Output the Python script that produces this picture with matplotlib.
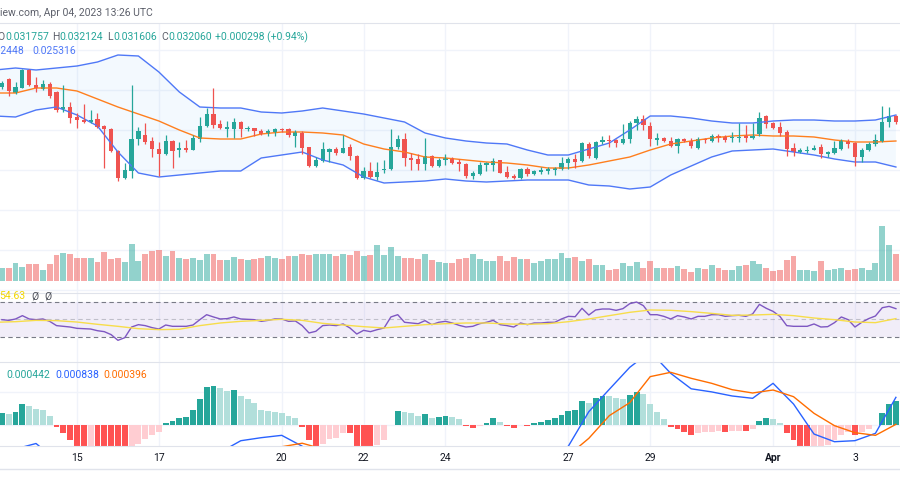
import numpy as np
import pandas as pd
import matplotlib
matplotlib.use("Agg")
import matplotlib.pyplot as plt
from matplotlib.ticker import MultipleLocator
from matplotlib.lines import Line2D

# 4h candles, Mar 13 04:00 -> Apr 04 00:00
times = pd.date_range("2023-03-13 04:00", periods=132, freq="4h")

opens = [
    0.03243, 0.03251, 0.03237, 0.03242, 0.03260, 0.03245, 0.03241, 0.03246, 0.03238, 0.03221, 0.03223, 0.03213,
    0.03210, 0.03208, 0.03211, 0.03204, 0.03201, 0.03179, 0.03152, 0.03159, 0.03191, 0.03195, 0.03189, 0.03181,
    0.03176, 0.03189, 0.03180, 0.03182, 0.03180, 0.03191, 0.03204, 0.03216, 0.03206, 0.03201, 0.03201, 0.03208,
    0.03201, 0.03202, 0.03199, 0.03196, 0.03198, 0.03201, 0.03201, 0.03194, 0.03197, 0.03183, 0.03164, 0.03169,
    0.03178, 0.03181, 0.03177, 0.03183, 0.03174, 0.03152, 0.03159, 0.03153, 0.03160, 0.03161, 0.03183, 0.03191,
    0.03172, 0.03171, 0.03166, 0.03174, 0.03164, 0.03170, 0.03172, 0.03168, 0.03166, 0.03154, 0.03156, 0.03165,
    0.03165, 0.03170, 0.03158, 0.03154, 0.03152, 0.03161, 0.03156, 0.03158, 0.03159, 0.03160, 0.03161, 0.03167,
    0.03171, 0.03169, 0.03186, 0.03172, 0.03188, 0.03190, 0.03190, 0.03187, 0.03191, 0.03207, 0.03211, 0.03204,
    0.03190, 0.03192, 0.03189, 0.03184, 0.03191, 0.03189, 0.03182, 0.03191, 0.03189, 0.03194, 0.03193, 0.03192,
    0.03192, 0.03194, 0.03192, 0.03196, 0.03214, 0.03207, 0.03203, 0.03198, 0.03182, 0.03178, 0.03179, 0.03180,
    0.03183, 0.03176, 0.03177, 0.03181, 0.03189, 0.03187, 0.03173, 0.03180, 0.03186, 0.03189, 0.03208, 0.03214,
]
highs = [
    0.03249, 0.03252, 0.03248, 0.03261, 0.03261, 0.03253, 0.03250, 0.03248, 0.03239, 0.03245, 0.03228, 0.03217,
    0.03226, 0.03220, 0.03217, 0.03205, 0.03202, 0.03180, 0.03167, 0.03245, 0.03203, 0.03207, 0.03193, 0.03188,
    0.03195, 0.03190, 0.03188, 0.03190, 0.03195, 0.03213, 0.03222, 0.03242, 0.03210, 0.03209, 0.03212, 0.03209,
    0.03204, 0.03202, 0.03201, 0.03201, 0.03202, 0.03202, 0.03202, 0.03200, 0.03199, 0.03183, 0.03173, 0.03188,
    0.03182, 0.03183, 0.03195, 0.03186, 0.03175, 0.03163, 0.03168, 0.03168, 0.03170, 0.03201, 0.03195, 0.03197,
    0.03177, 0.03176, 0.03192, 0.03175, 0.03172, 0.03176, 0.03173, 0.03171, 0.03167, 0.03159, 0.03168, 0.03168,
    0.03172, 0.03170, 0.03164, 0.03156, 0.03162, 0.03163, 0.03160, 0.03163, 0.03163, 0.03163, 0.03173, 0.03173,
    0.03176, 0.03188, 0.03188, 0.03189, 0.03194, 0.03195, 0.03191, 0.03206, 0.03209, 0.03214, 0.03215, 0.03208,
    0.03197, 0.03193, 0.03193, 0.03192, 0.03192, 0.03192, 0.03193, 0.03192, 0.03196, 0.03196, 0.03195, 0.03198,
    0.03207, 0.03205, 0.03207, 0.03218, 0.03215, 0.03208, 0.03208, 0.03200, 0.03187, 0.03182, 0.03184, 0.03185,
    0.03186, 0.03179, 0.03189, 0.03191, 0.03191, 0.03188, 0.03182, 0.03188, 0.03196, 0.03224, 0.03223, 0.03215,
]
lows = [
    0.03241, 0.03234, 0.03236, 0.03242, 0.03244, 0.03238, 0.03240, 0.03232, 0.03218, 0.03218, 0.03207, 0.03202,
    0.03207, 0.03207, 0.03202, 0.03162, 0.03178, 0.03149, 0.03151, 0.03152, 0.03185, 0.03186, 0.03173, 0.03154,
    0.03175, 0.03162, 0.03173, 0.03178, 0.03180, 0.03188, 0.03203, 0.03202, 0.03201, 0.03193, 0.03192, 0.03193,
    0.03199, 0.03194, 0.03195, 0.03194, 0.03194, 0.03198, 0.03193, 0.03183, 0.03176, 0.03163, 0.03163, 0.03168,
    0.03168, 0.03175, 0.03177, 0.03170, 0.03151, 0.03151, 0.03152, 0.03150, 0.03157, 0.03160, 0.03181, 0.03164,
    0.03160, 0.03160, 0.03160, 0.03163, 0.03163, 0.03165, 0.03166, 0.03159, 0.03152, 0.03151, 0.03155, 0.03159,
    0.03159, 0.03157, 0.03152, 0.03151, 0.03151, 0.03154, 0.03155, 0.03156, 0.03156, 0.03155, 0.03160, 0.03161,
    0.03162, 0.03168, 0.03172, 0.03171, 0.03186, 0.03183, 0.03183, 0.03186, 0.03187, 0.03200, 0.03200, 0.03184,
    0.03185, 0.03188, 0.03183, 0.03177, 0.03188, 0.03182, 0.03181, 0.03187, 0.03188, 0.03188, 0.03188, 0.03188,
    0.03188, 0.03188, 0.03191, 0.03194, 0.03202, 0.03201, 0.03194, 0.03174, 0.03174, 0.03177, 0.03177, 0.03180,
    0.03172, 0.03173, 0.03176, 0.03180, 0.03182, 0.03164, 0.03168, 0.03179, 0.03184, 0.03188, 0.03203, 0.03206,
]
closes = [
    0.03247, 0.03239, 0.03243, 0.03260, 0.03245, 0.03242, 0.03246, 0.03234, 0.03220, 0.03223, 0.03212, 0.03210,
    0.03208, 0.03210, 0.03203, 0.03201, 0.03179, 0.03152, 0.03160, 0.03191, 0.03199, 0.03188, 0.03181, 0.03176,
    0.03189, 0.03179, 0.03182, 0.03180, 0.03192, 0.03204, 0.03216, 0.03205, 0.03202, 0.03203, 0.03208, 0.03201,
    0.03202, 0.03199, 0.03196, 0.03199, 0.03201, 0.03200, 0.03195, 0.03198, 0.03182, 0.03164, 0.03170, 0.03181,
    0.03181, 0.03177, 0.03182, 0.03174, 0.03152, 0.03159, 0.03153, 0.03158, 0.03161, 0.03183, 0.03191, 0.03172,
    0.03170, 0.03166, 0.03174, 0.03164, 0.03170, 0.03172, 0.03167, 0.03166, 0.03154, 0.03157, 0.03165, 0.03167,
    0.03169, 0.03157, 0.03153, 0.03152, 0.03161, 0.03156, 0.03159, 0.03160, 0.03161, 0.03162, 0.03167, 0.03171,
    0.03168, 0.03187, 0.03174, 0.03188, 0.03190, 0.03189, 0.03187, 0.03191, 0.03207, 0.03211, 0.03205, 0.03191,
    0.03192, 0.03189, 0.03184, 0.03191, 0.03189, 0.03184, 0.03191, 0.03190, 0.03194, 0.03192, 0.03190, 0.03193,
    0.03193, 0.03192, 0.03194, 0.03212, 0.03206, 0.03202, 0.03197, 0.03181, 0.03178, 0.03180, 0.03180, 0.03182,
    0.03176, 0.03178, 0.03182, 0.03189, 0.03186, 0.03173, 0.03180, 0.03186, 0.03190, 0.03208, 0.03214, 0.03208,
]
volume = [
    40, 40, 53, 42, 51, 51, 32, 51, 78, 84, 82, 68, 70, 68, 57, 86, 66, 68, 57, 111,
    59, 80, 89, 92, 74, 90, 68, 65, 70, 62, 80, 80, 62, 64, 72, 65, 62, 65, 70, 74,
    68, 66, 76, 74, 80, 78, 80, 82, 80, 74, 82, 78, 90, 74, 77, 107, 78, 101, 74, 68,
    68, 65, 80, 64, 58, 54, 54, 67, 69, 80, 67, 59, 61, 76, 61, 71, 67, 67, 55, 61,
    65, 65, 84, 69, 71, 59, 65, 49, 49, 34, 36, 53, 44, 57, 38, 59, 40, 38, 40, 44,
    36, 28, 40, 36, 49, 38, 34, 32, 44, 49, 59, 51, 38, 30, 32, 63, 76, 34, 32, 30,
    61, 34, 36, 38, 32, 36, 38, 34, 53, 164, 109, 82,
]

# Bollinger bands, sampled every 12h from Mar 13 00:00
band_times = pd.date_range("2023-03-13 00:00", "2023-04-04 00:00", freq="12h")
bb_upper = [
    0.03260, 0.03262, 0.03260, 0.03262, 0.03264, 0.03268, 0.03275, 0.03274, 0.03258, 0.03238, 0.03223, 0.03222,
    0.03222, 0.03218, 0.03217, 0.03219, 0.03222, 0.03219, 0.03216, 0.03212, 0.03208, 0.03197, 0.03192, 0.03189,
    0.03187, 0.03186, 0.03180, 0.03175, 0.03175, 0.03181, 0.03187, 0.03200, 0.03214, 0.03214, 0.03212, 0.03209,
    0.03207, 0.03207, 0.03209, 0.03210, 0.03210, 0.03209, 0.03209, 0.03210, 0.03215,
]
bb_basis = [
    0.03237, 0.03237, 0.03242, 0.03242, 0.03239, 0.03231, 0.03223, 0.03216, 0.03209, 0.03200, 0.03192, 0.03191,
    0.03191, 0.03196, 0.03198, 0.03198, 0.03197, 0.03195, 0.03186, 0.03181, 0.03178, 0.03173, 0.03172, 0.03170,
    0.03168, 0.03167, 0.03165, 0.03162, 0.03162, 0.03165, 0.03169, 0.03173, 0.03180, 0.03186, 0.03189, 0.03192,
    0.03194, 0.03195, 0.03194, 0.03194, 0.03193, 0.03190, 0.03188, 0.03188, 0.03189,
]
bb_lower = [
    0.03214, 0.03213, 0.03220, 0.03223, 0.03215, 0.03204, 0.03178, 0.03157, 0.03153, 0.03155, 0.03157, 0.03159,
    0.03159, 0.03172, 0.03175, 0.03178, 0.03170, 0.03165, 0.03153, 0.03147, 0.03148, 0.03149, 0.03151, 0.03149,
    0.03148, 0.03149, 0.03150, 0.03150, 0.03150, 0.03145, 0.03144, 0.03141, 0.03143, 0.03155, 0.03164, 0.03173,
    0.03179, 0.03180, 0.03181, 0.03178, 0.03175, 0.03171, 0.03168, 0.03168, 0.03163,
]

rsi = [
    49.8, 49.0, 50.6, 54.4, 50.6, 49.8, 50.6, 47.9, 43.0, 42.2,
    41.4, 39.9, 39.5, 39.1, 37.2, 36.1, 32.7, 26.2, 29.2, 41.4,
    44.1, 43.0, 40.7, 39.1, 43.7, 42.2, 42.2, 42.2, 43.7, 49.8,
    55.5, 52.9, 50.6, 51.0, 52.9, 50.6, 50.2, 49.8, 47.9, 49.0,
    50.6, 50.6, 47.9, 48.3, 43.0, 34.6, 36.5, 43.0, 43.7, 43.0,
    44.9, 40.3, 33.4, 37.6, 36.1, 38.4, 40.3, 52.9, 55.5, 46.8,
    46.0, 45.2, 48.7, 44.1, 46.8, 47.9, 46.0, 43.3, 41.4, 42.2,
    45.2, 46.8, 49.0, 44.1, 43.0, 41.4, 46.0, 44.1, 46.0, 46.0,
    46.8, 46.8, 50.6, 53.6, 53.2, 62.8, 55.1, 60.9, 62.0, 62.0,
    60.5, 62.4, 68.1, 70.0, 65.8, 55.5, 55.5, 53.6, 50.6, 54.4,
    52.9, 50.6, 53.6, 53.6, 55.5, 55.5, 53.6, 54.4, 54.8, 53.6,
    56.3, 67.3, 62.8, 59.3, 53.6, 43.0, 42.2, 42.2, 42.2, 44.9,
    41.4, 41.8, 46.4, 52.9, 49.8, 41.4, 46.8, 51.0, 54.0, 63.5,
    65.0, 62.4,
]
rsi_ma = [
    46.8, 47.5, 49.0, 48.7, 47.1, 44.5, 42.2, 39.5, 38.4, 38.8, 43.0, 46.0, 47.9, 49.0, 50.2,
    49.0, 45.6, 43.7, 41.8, 40.3, 42.2, 44.1, 45.2, 46.0, 46.0, 44.9, 44.5, 45.2, 47.5, 50.6,
    54.4, 58.2, 60.9, 60.5, 59.0, 57.0, 54.8, 55.1, 55.9, 54.4, 51.7, 49.8, 47.1, 46.4, 51.0,
]

# MACD in units of 1e-6
macd_hist = [
    222, 198, 234, 390, 354, 288, 282, 162, -42, -150,
    -282, -420, -450, -432, -450, -480, -540, -600, -630, -540,
    -342, -258, -180, -120, 30, 78, 120, 150, 282, 480,
    690, 720, 678, 630, 642, 540, 480, 402, 282, 252,
    240, 228, 162, 120, -42, -282, -420, -342, -258, -240,
    -138, -150, -390, -420, -450, -372, -282, -6, 252, 240,
    222, 168, 198, 132, 150, 168, 150, 108, -18, -60,
    -18, 42, 120, 54, -18, -60, -6, -18, 30, 60,
    90, 132, 192, 252, 282, 438, 408, 492, 540, 528,
    498, 480, 552, 612, 570, 378, 240, 108, -42, -72,
    -120, -192, -150, -132, -120, -108, -132, -108, -102, -114,
    -78, 78, 132, 108, 42, -150, -270, -390, -420, -408,
    -384, -360, -270, -180, -132, -180, -120, -72, -6, 228,
    390, 438,
]
macd_line = [
    -480, -440, -340, -650, -1000, -1250, -1500, -1600, -1450, -1250, -850, -500, -289, -233, -190,
    -390, -700, -800, -900, -950, -600, -560, -600, -720, -660, -700, -700, -580, -390, 245,
    656, 1061, 1350, 951, 666, 609, 534, 491, 767, 386, -166, -307, -288, -153, 509,
]
macd_signal = [
    -650, -680, -640, -660, -800, -950, -1100, -1250, -1350, -1350, -1250, -1050, -840, -560, -400,
    -335, -440, -500, -600, -680, -720, -740, -760, -760, -750, -730, -710, -680, -560, -245,
    172, 411, 890, 969, 859, 767, 650, 589, 644, 521, 215, -12, -141, -190, 12,
]

tick_dates = ["2023-03-15", "2023-03-17", "2023-03-20", "2023-03-22", "2023-03-24",
              "2023-03-27", "2023-03-29", "2023-04-01", "2023-04-03"]
tick_labels = ["15", "17", "20", "22", "24", "27", "29", "Apr", "3"]

UP, DOWN = "#26a69a", "#ef5350"
GRID = "#f0f3fa"
BORDER = "#e0e3eb"
W, H = 900, 500

plt.rcParams["font.family"] = ["Roboto", "DejaVu Sans"]

opens, highs, lows, closes = map(np.array, (opens, highs, lows, closes))
x = np.arange(len(closes))
step = pd.Timedelta("4h")
band_x = (band_times - times[0]) / step
tick_x = [(pd.Timestamp(d) - times[0]) / step for d in tick_dates]
up = closes >= opens


def rect(top, bottom):
    return [0, 1 - bottom / H, 1, (bottom - top) / H]


def style(ax):
    for s in ax.spines.values():
        s.set_visible(False)
    ax.spines["top"].set_visible(True)
    ax.spines["top"].set_color(BORDER)
    ax.set_xticks(tick_x)
    ax.tick_params(length=0, labelleft=False, labelbottom=False)
    ax.grid(True, axis="x", color=GRID, lw=1)
    ax.set_axisbelow(True)
    ax.set_xlim(-0.28, 131.6)


fig = plt.figure(figsize=(W / 100, H / 100), dpi=100)

# price pane
ax = fig.add_axes(rect(23, 293))
style(ax)
ax.yaxis.set_major_locator(MultipleLocator(0.0004))
ax.grid(True, axis="y", color=GRID, lw=1)
ax.set_ylim(0.03037, 0.03307)
ax.fill_between(band_x, bb_upper, bb_lower, color="#2196f3", alpha=0.05, lw=0)
ax.plot(band_x, bb_upper, color="#4f78f7", lw=1)
ax.plot(band_x, bb_lower, color="#4f78f7", lw=1)
ax.plot(band_x, bb_basis, color="#ff7f1e", lw=1)
col = np.where(up, UP, DOWN)
ax.vlines(x, lows, highs, colors=col, lw=0.9)
body = np.maximum(np.abs(closes - opens), 0.000012)
ax.bar(x, body, 0.62, bottom=np.minimum(opens, closes), color=col, lw=0)

axv = ax.twinx()
axv.set_axis_off()
axv.set_ylim(-36, 774)
axv.bar(x, volume, 0.86, color=col, alpha=0.5, lw=0)

# RSI pane
ar = fig.add_axes(rect(293, 362), sharex=ax)
style(ar)
ar.set_ylim(1.4, 80.3)
ar.axhspan(30, 70, color="#7e57c2", alpha=0.1, lw=0)
ar.axhline(70, color="#787b86", lw=0.8, ls=(0, (4, 3)))
ar.axhline(30, color="#787b86", lw=0.8, ls=(0, (4, 3)))
ar.axhline(50, color="#787b86", lw=0.8, ls=(0, (4, 3)), alpha=0.4)
ar.plot(x, rsi, color="#7e57c2", lw=1)
ar.plot(band_x, rsi_ma, color="#f7dd4a", lw=1)

# MACD pane
am = fig.add_axes(rect(362, 446), sharex=ax)
style(am)
am.spines["bottom"].set_visible(True)
am.spines["bottom"].set_color(BORDER)
am.yaxis.set_major_locator(MultipleLocator(600))
am.grid(True, axis="y", color=GRID, lw=1)
am.set_ylim(-386, 1159)
h = np.array(macd_hist)
prev = np.r_[h[0], h[:-1]]
hcol = np.where(h >= 0, np.where(h >= prev, "#26a69a", "#b2dfdb"),
                np.where(h < prev, "#ff5252", "#ffcdd2"))
am.bar(x, h, 0.86, color=hcol, lw=0)
am.plot(band_x, macd_line, color="#2962ff", lw=1)
am.plot(band_x, macd_signal, color="#ff6d00", lw=1)
am.tick_params(labelbottom=True, pad=5, labelsize=7.5, labelcolor="#131722")
am.set_xticklabels(tick_labels)
am.get_xticklabels()[7].set_fontweight("bold")

fig.add_artist(Line2D([0, 1], [1 - 469 / H] * 2, color=BORDER, lw=1))


def label(px, py, s, color, size=7.5, **kw):
    fig.text(px / W, 1 - py / H, s, color=color, va="center", fontsize=size, **kw)


label(0, 13, "iew.com, Apr 04, 2023 13:26 UTC", "#5d606b")
for px, s, c in [(-3, "O", "#5d606b"), (5, "0.031757", UP), (52, "H", "#5d606b"),
                 (59, "0.032124", UP), (107, "L", "#5d606b"), (113, "0.031606", UP),
                 (161, "C", "#5d606b"), (168, "0.032060", UP), (215, "+0.000298 (+0.94%)", UP)]:
    label(px, 37, s, c)
label(24, 51, "0.032448", "#4f78f7", ha="right")
label(32, 51, "0.025316", "#4f78f7")
label(-1, 296, "54.63", "#f2d600")
label(31, 296, "Ø", "#4a4d57")
label(44, 296, "Ø", "#4a4d57")
label(6, 375, "0.000442", UP)
label(55, 375, "0.000838", "#2962ff")
label(103, 375, "0.000396", "#ff6d00")

fig.savefig("out.png", dpi=100)
